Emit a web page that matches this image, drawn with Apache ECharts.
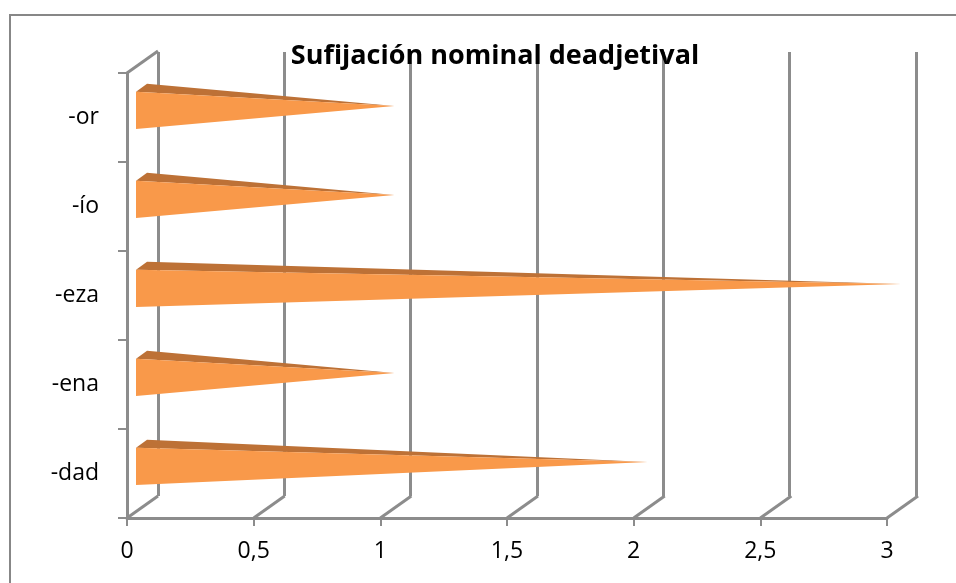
<!DOCTYPE html>
<html>
<head>
<meta charset="utf-8">
<script src="https://cdn.jsdelivr.net/npm/echarts@6/dist/echarts.min.js"></script>
<style>
  html, body { margin: 0; padding: 0; background: #fff; }
  #chart { width: 956px; height: 583px; }
</style>
</head>
<body>
<div id="chart"></div>
<script>
// chart data
const categories = ['-dad', '-ena', '-eza', '-ío', '-or']
const values = [2, 1, 3, 1, 1]
const xTicks = [0, 0.5, 1, 1.5, 2, 2.5, 3]
const titleText = 'Sufijación nominal deadjetival'

const gridGray = '#8c8c8c'
const font = '"Open Sans", sans-serif'

const chart = echarts.init(document.getElementById('chart'))

// back wall offset of the fake 3d box
const DX = 31, DY = -22

chart.setOption({
  animation: false,
  title: {
    text: titleText,
    left: 490, top: 38, textAlign: 'center',
    textStyle: { fontFamily: font, fontWeight: 'bold', fontSize: 27, color: '#000' }
  },
  graphic: [{
    type: 'rect', shape: { x: 10, y: 15, width: 1200, height: 1200 },
    style: { fill: 'none', stroke: '#878787', lineWidth: 2 }, silent: true
  }],
  grid: [
    { left: 127, right: 69, top: 73, bottom: 65 },
    { left: 158, right: 40, top: 52, bottom: 87 }
  ],
  xAxis: [{
    gridIndex: 0, type: 'value', min: 0, max: 3, interval: 0.5,
    axisLine: { show: true, lineStyle: { color: gridGray, width: 3 } },
    axisTick: { show: true, length: 8, lineStyle: { color: gridGray, width: 2 } },
    splitLine: { show: false },
    axisLabel: {
      margin: 22, color: '#000', fontFamily: font, fontSize: 23,
      formatter: v => String(v).replace('.', ',')
    }
  }, {
    gridIndex: 1, type: 'value', min: 0, max: 3, interval: 0.5,
    axisLine: { show: false }, axisTick: { show: false }, axisLabel: { show: false },
    splitLine: { show: true, lineStyle: { color: gridGray, width: 3 } }
  }],
  yAxis: [{
    gridIndex: 0, type: 'category', data: categories,
    axisLine: { show: true, lineStyle: { color: gridGray, width: 3 } },
    axisTick: { show: true, length: 9, lineStyle: { color: gridGray, width: 2 } },
    axisLabel: { margin: 28, color: '#000', fontFamily: font, fontSize: 23 }
  }, {
    gridIndex: 1, type: 'value', min: 0, max: 1, show: false, splitLine: { show: false }
  }],
  series: [{
    // floor diagonals + top-left diagonal
    type: 'custom', xAxisIndex: 0, yAxisIndex: 0, silent: true, z: 1,
    data: xTicks.map(v => [v, 0]),
    renderItem: (params, api) => {
      const cs = params.coordSys
      const x = api.coord([api.value(0), 0])[0]
      const bottom = cs.y + cs.height
      const children = [{
        type: 'line', shape: { x1: x, y1: bottom, x2: x + DX, y2: bottom + DY },
        style: { stroke: gridGray, lineWidth: 3 }
      }]
      if (params.dataIndex === 0) {
        children.push({
          type: 'line', shape: { x1: x, y1: cs.y, x2: x + DX, y2: cs.y + DY },
          style: { stroke: gridGray, lineWidth: 3 }
        })
      }
      return { type: 'group', children }
    }
  }, {
    // pyramid bars
    type: 'custom', xAxisIndex: 0, yAxisIndex: 0, z: 5,
    data: values.map((v, i) => [v, i]),
    renderItem: (params, api) => {
      const base = api.coord([0, api.value(1)])
      const tip = api.coord([api.value(0), api.value(1)])
      const band = api.size([0, 1])[1]
      const yc = base[1] - band * 0.08
      const half = band * 0.21
      const x = base[0] + 9
      const top = yc - half, bot = yc + half
      const apex = [tip[0] + 14, base[1] - band * 0.13]
      return {
        type: 'group',
        children: [{
          type: 'polygon',
          shape: { points: [[x, top], [x + 11, top - 8], apex] },
          style: { fill: '#bd7136' }
        }, {
          type: 'polygon',
          shape: { points: [[x, top], [x, bot], apex] },
          style: { fill: '#f9994a' }
        }]
      }
    }
  }, {
    type: 'custom', xAxisIndex: 1, yAxisIndex: 1, data: [],
    renderItem: () => null
  }]
})
</script>
</body>
</html>
